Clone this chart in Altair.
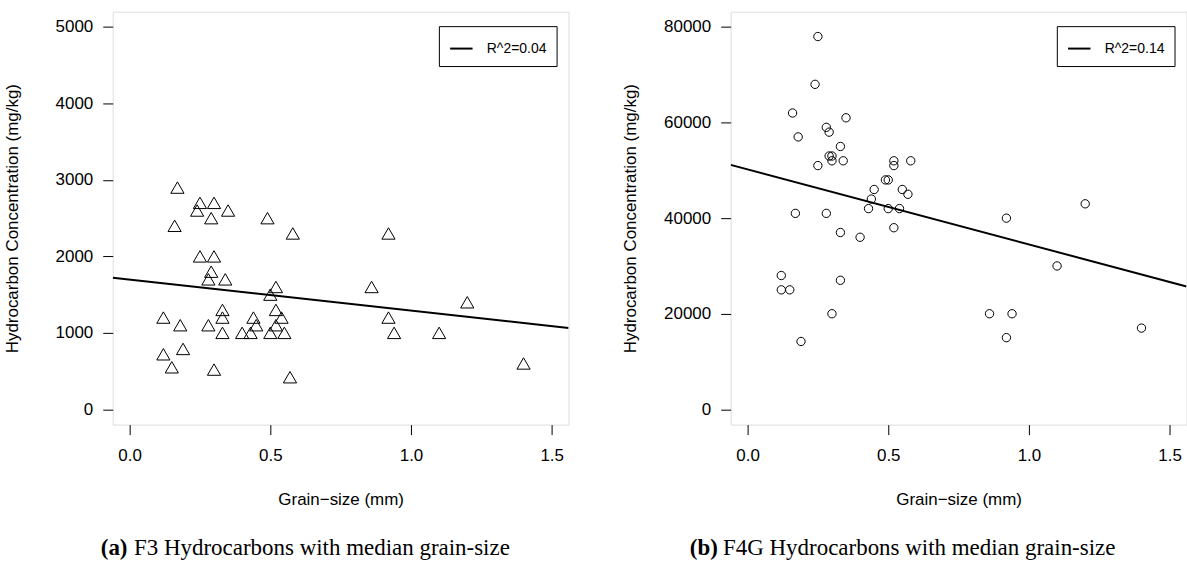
import altair as alt
import pandas as pd

# ---- data ----
f3_grain = [0.17, 0.25, 0.30, 0.24, 0.35, 0.29, 0.49, 0.16, 0.58, 0.25, 0.30, 0.29, 0.28, 0.34,
            0.52, 0.50, 0.33, 0.52, 0.12, 0.33, 0.44, 0.54, 0.18, 0.28, 0.45, 0.52, 0.33, 0.40,
            0.43, 0.50, 0.55, 0.19, 0.12, 0.15, 0.30, 0.57, 0.92, 0.86, 1.20, 0.92, 0.94, 1.10, 1.40]
f3_conc = [2900, 2700, 2700, 2600, 2600, 2500, 2500, 2400, 2300, 2000, 2000, 1800, 1700, 1700,
           1600, 1500, 1300, 1300, 1200, 1200, 1200, 1200, 1100, 1100, 1100, 1100, 1000, 1000,
           1000, 1000, 1000, 790, 720, 550, 520, 420, 2300, 1600, 1400, 1200, 1000, 1000, 600]

f4g_grain = [0.25, 0.24, 0.16, 0.35, 0.28, 0.29, 0.18, 0.33, 0.29, 0.30, 0.30, 0.34, 0.25, 0.52,
             0.58, 0.52, 0.49, 0.50, 0.45, 0.55, 0.57, 0.44, 0.43, 0.50, 0.54, 0.17, 0.28, 0.33,
             0.40, 0.52, 0.12, 0.12, 0.15, 0.33, 0.30, 0.19, 0.92, 1.20, 1.10, 0.86, 0.94, 0.92, 1.40]
f4g_conc = [78000, 68000, 62000, 61000, 59000, 58000, 57000, 55000, 53000, 53000, 52000, 52000,
            51000, 52000, 52000, 51000, 48000, 48000, 46000, 46000, 45000, 44000, 42000, 42000,
            42000, 41000, 41000, 37000, 36000, 38000, 28000, 25000, 25000, 27000, 20000, 14200,
            40000, 43000, 30000, 20000, 20000, 15000, 17000]

# fitted lines (intercept, slope) and legend labels
f3_fit = (1697, -406)
f4g_fit = (50200, -15700)
f3_label = "R^2=0.04"
f4g_label = "R^2=0.14"

x_ends = [-0.06, 1.56]
x_ticks = [0.0, 0.5, 1.0, 1.5]
f3_yticks = [0, 1000, 2000, 3000, 4000, 5000]
f4g_yticks = [0, 20000, 40000, 60000, 80000]

captions = [("(a)", "F3 Hydrocarbons with median grain-size"),
            ("(b)", "F4G Hydrocarbons with median grain-size")]

W, H = 457, 414
FONT = "Liberation Sans"
SERIF = "Liberation Serif"
FS = 17
CAPFS = 23


def panel(grain, conc, fit, label, yticks, ydom, shape, size, cap, cap_x):
    pts = pd.DataFrame({"x": grain, "y": conc})
    line = pd.DataFrame({"x": x_ends, "y": [fit[0] + fit[1] * v for v in x_ends], "lab": label})
    xsc = alt.Scale(domain=x_ends, nice=False, zero=False)
    ysc = alt.Scale(domain=ydom, nice=False, zero=False)
    xax = alt.Axis(values=x_ticks, format=".1f", title="Grain\u2212size (mm)", grid=False,
                   domain=False, tickColor="black", tickSize=10, labelPadding=13,
                   labelFontSize=FS, titleFontSize=FS, labelFont=FONT, titleFont=FONT,
                   titleFontWeight="normal", labelColor="black", titleColor="black",
                   titlePadding=28)
    yax = alt.Axis(values=yticks, format="d", title="Hydrocarbon Concentration (mg/kg)",
                   grid=False, domain=False, tickColor="black", tickSize=10, labelPadding=10,
                   labelFontSize=FS, titleFontSize=FS, labelFont=FONT, titleFont=FONT,
                   titleFontWeight="normal", labelColor="black", titleColor="black",
                   titleX=-100, titleY=H / 2, titleAngle=270, titleAlign="center",
                   titleBaseline="middle")
    p = alt.Chart(pts).mark_point(shape=shape, filled=False, color="black", size=size,
                                  strokeWidth=1, opacity=1).encode(
        x=alt.X("x:Q", scale=xsc, axis=xax),
        y=alt.Y("y:Q", scale=ysc, axis=yax),
    )
    l = alt.Chart(line).mark_line(clip=True, strokeWidth=2).encode(
        x=alt.X("x:Q", scale=xsc),
        y=alt.Y("y:Q", scale=ysc),
        color=alt.Color("lab:N", scale=alt.Scale(range=["black"]),
                        legend=alt.Legend(title=None, orient="none", legendX=327,
                                          legendY=14.5,
                                          strokeColor="black", fillColor="white",
                                          padding=10, symbolType="stroke",
                                          symbolStrokeWidth=2, symbolSize=506,
                                          labelOffset=13,
                                          labelFontSize=14, labelFont=FONT,
                                          labelColor="black", cornerRadius=0)),
    )
    capdf = pd.DataFrame({"a": [cap[0]], "b": [cap[1]]})
    bold_w = 1.2 * CAPFS + 0.25 * CAPFS
    c1 = alt.Chart(capdf).mark_text(align="left", baseline="alphabetic", font=SERIF,
                                    fontSize=CAPFS, fontWeight="bold", color="black").encode(
        text="a:N", x=alt.value(cap_x), y=alt.value(H + 130.5))
    c2 = alt.Chart(capdf).mark_text(align="left", baseline="alphabetic", font=SERIF,
                                    fontSize=CAPFS, color="black").encode(
        text="b:N", x=alt.value(cap_x + bold_w), y=alt.value(H + 130.5))
    return alt.layer(p, l, c1, c2).properties(width=W, height=H)


left = panel(f3_grain, f3_conc, f3_fit, f3_label, f3_yticks, [-200, 5200],
             "triangle-up", 175, captions[0], -12)
right = panel(f4g_grain, f4g_conc, f4g_fit, f4g_label, f4g_yticks, [-3200, 83200],
              "circle", 70, captions[1], -41)

chart = alt.hconcat(left, right, spacing=51.5).resolve_scale(color="independent").configure_view(
    stroke="black", strokeWidth=1.3
).configure(background="white", padding={"left": 3, "top": 10, "right": 0, "bottom": 0})

chart.save("out.html", embed_options={"renderer": "svg", "actions": False})
